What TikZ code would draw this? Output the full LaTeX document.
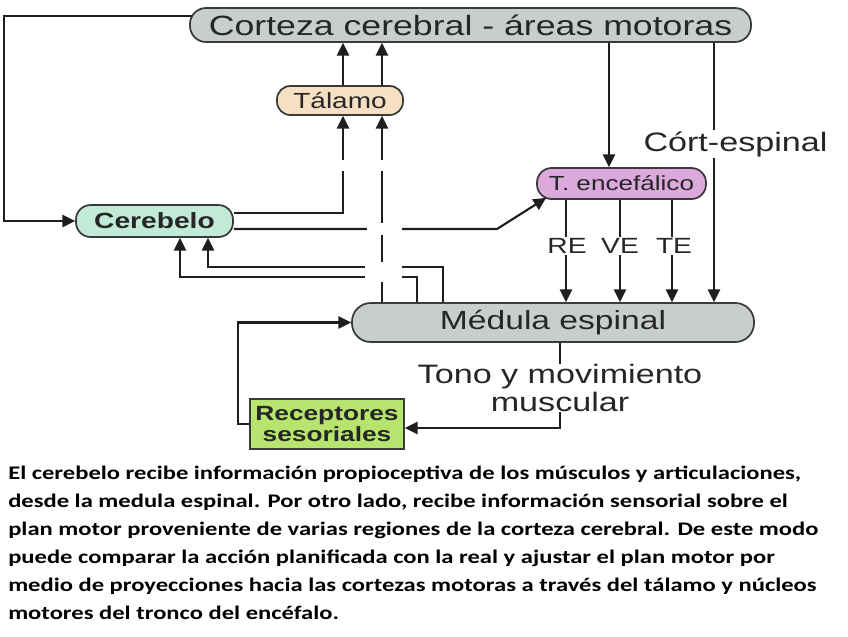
\documentclass[tikz,border=0pt]{standalone}
\usepackage{fontspec}
\setmainfont{Liberation Sans}
\newfontfamily\dfont[FakeStretch=1.28]{Liberation Sans}
\newfontfamily\cfont[FakeStretch=1.28]{Carlito}
\usetikzlibrary{arrows.meta}
\definecolor{cgray}{HTML}{C8CDCD}
\definecolor{cpeach}{HTML}{F6DFC2}
\definecolor{cmint}{HTML}{C2EAD8}
\definecolor{clilac}{HTML}{DCA9DC}
\definecolor{cgreen}{HTML}{B6E46E}
\definecolor{cline}{HTML}{1E1E1E}
\definecolor{cborder}{HTML}{3A3A3A}
\definecolor{ctext}{HTML}{262626}
\tikzset{
  box/.style={draw=cborder, line width=1.3pt, inner sep=0pt, text=ctext, font=\dfont},
  pill/.style={box, rectangle, rounded corners=#1},
  arr/.style={draw=cline, line width=1.6pt, -{Triangle[length=9.5pt,width=9pt]}},
  lbl/.style={fill=white, inner sep=1pt, text=ctext},
}
\begin{document}
\begin{tikzpicture}[x=0.75pt, y=-0.75pt]
\useasboundingbox[fill=white] (0,0) rectangle (848,636);

% nodes
\node[pill=12pt, fill=cgray, minimum width=420.75pt, minimum height=25.5pt,
      font=\dfont\fontsize{20.9}{24}\selectfont] (cor) at (470.5,25) {Corteza cerebral - áreas motoras};
\node[pill=10pt, fill=cpeach, minimum width=94.5pt, minimum height=21.75pt,
      font=\dfont\fontsize{16.4}{19}\selectfont] (tal) at (340,100.5) {Tálamo};
\node[pill=11pt, fill=cmint, minimum width=117.75pt, minimum height=24pt,
      font=\dfont\bfseries\fontsize{16.5}{19}\selectfont] (cer) at (154.5,221) {Cerebelo};
\node[pill=11pt, fill=clilac, minimum width=126.75pt, minimum height=23.25pt,
      font=\dfont\fontsize{15.3}{18}\selectfont] (tenc) at (621.5,183.5) {T. encefálico};
\node[pill=14pt, fill=cgray, minimum width=301.5pt, minimum height=29.25pt,
      font=\dfont\fontsize{19.7}{23}\selectfont] (med) at (553,322.5) {Médula espinal};
\node[box, fill=cgreen, minimum width=115.5pt, minimum height=37.5pt, align=center,
      font=\dfont\bfseries\fontsize{15.4}{16}\selectfont] (rec) at (327,424) {Receptores\\sesoriales};

% x positions of vertical connectors
\coordinate (xl) at (343,0);
\coordinate (xr) at (382,0);
\coordinate (xc1) at (208,0);
\coordinate (xc2) at (180,0);
\coordinate (xm1) at (443,0);
\coordinate (xm2) at (417,0);
\coordinate (xte) at (609,0);
\coordinate (xcs) at (714,0);
\coordinate (xre) at (566,0);
\coordinate (xve) at (620,0);
\coordinate (xtr) at (672,0);
\coordinate (xto) at (560,0);
\coordinate (bend) at (497,229);
\coordinate (h1) at (208,267);
\coordinate (h2) at (180,277);

% connectors
\draw[arr] ([yshift=6.75pt,xshift=2pt]cor.west) -- ++(-188,0) |- (cer.west);
\draw[arr] ([yshift=6pt]cer.east) -| (tal.south -| xl);
\draw[arr] (tal.north -| xl) -- (cor.south -| xl);
\draw[arr] (tal.north -| xr) -- (cor.south -| xr);
\draw[arr] (med.north -| xr) -- (tal.south -| xr);
\draw[arr] ([yshift=-6pt]cer.east) -- (bend) -- ([xshift=7.5pt,yshift=1.5pt]tenc.south west);
\draw[arr] (med.north -| xm1) |- (h1) -- (cer.south -| xc1);
\draw[arr] (med.north -| xm2) |- (h2) -- (cer.south -| xc2);
\draw[arr] (cor.south -| xte) -- (tenc.north -| xte);
\draw[arr] (cor.south -| xcs) -- (med.north -| xcs);
\draw[arr] (tenc.south -| xre) -- (med.north -| xre);
\draw[arr] (tenc.south -| xve) -- (med.north -| xve);
\draw[arr] (tenc.south -| xtr) -- (med.north -| xtr);
\draw[arr] (rec.west) -- ++(-11,0) |- (med.west);
\draw[arr] (med.south -| xto) |- ([yshift=-3pt]rec.east);

% gaps at crossings
\fill[white] (367,223) rectangle (402,235);
\fill[white] (365,262) rectangle (402,282);
\fill[white] (333,160) rectangle (392,171);

% labels
\node[lbl, font=\dfont\fontsize{20}{23}\selectfont] (ce) at (735.5,144) {Córt-espinal};
\node[lbl, font=\dfont\fontsize{16.5}{19}\selectfont] (re) at (567,246) {RE};
\node[lbl, font=\dfont\fontsize{16.5}{19}\selectfont] (ve) at (620,246) {VE};
\node[lbl, font=\dfont\fontsize{16.5}{19}\selectfont] (te) at (674,246) {TE};
\node[lbl, inner sep=0pt, align=center, font=\dfont\fontsize{20}{21}\selectfont] (tono) at (560,388) {Tono y movimiento\\muscular};

% caption
\node[anchor=north west, inner sep=0pt, align=left, text=black,
      font=\cfont\bfseries\fontsize{14.4}{20.9}\selectfont] (txt) at (8,466)
 {El cerebelo recibe información propioceptiva de los músculos y articulaciones,\\
  desde la medula espinal. Por otro lado, recibe información sensorial sobre el\\
  plan motor proveniente de varias regiones de la corteza cerebral. De este modo\\
  puede comparar la acción planificada con la real y ajustar el plan motor por\\
  medio de proyecciones hacia las cortezas motoras a través del tálamo y núcleos\\
  motores del tronco del encéfalo.};
\end{tikzpicture}
\end{document}
